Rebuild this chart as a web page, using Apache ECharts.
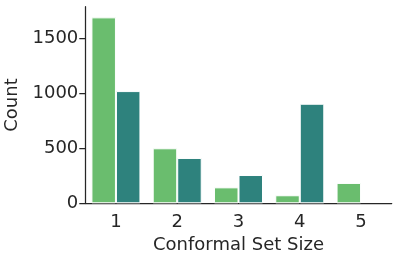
<!DOCTYPE html>
<html>
<head>
<meta charset="utf-8">
<style>html,body{margin:0;padding:0;background:#fff}#c{width:399px;height:261px}</style>
<script src="https://cdn.jsdelivr.net/npm/echarts@6/dist/echarts.min.js"></script>
</head>
<body>
<div id="c"></div>
<script>
var categories = ['1', '2', '3', '4', '5'];
var seriesA = [1690, 500, 145, 73, 185];
var seriesB = [1020, 412, 257, 905, null];
var yTicks = [0, 500, 1000, 1500];

var chart = echarts.init(document.getElementById('c'), null, {renderer: 'canvas'});
var font = 'DejaVu Sans';
var ink = '#262626';
chart.setOption({
  animation: false,
  grid: {left: 85.3, right: 7.3, top: 6.7, bottom: 57.7, containLabel: false, outerBoundsMode: 'none'},
  xAxis: {
    type: 'category',
    data: categories,
    name: 'Conformal Set Size',
    nameLocation: 'middle',
    nameGap: 30,
    nameTextStyle: {fontFamily: font, fontSize: 18, color: ink},
    axisLine: {lineStyle: {color: ink, width: 1.25}},
    axisTick: {alignWithLabel: true, length: 6, lineStyle: {color: ink, width: 1.25}},
    axisLabel: {fontFamily: font, fontSize: 18, color: ink, margin: 10}
  },
  yAxis: {
    type: 'value',
    min: 0,
    max: 1787,
    interval: 500,
    name: 'Count',
    nameLocation: 'middle',
    nameGap: 58,
    nameTextStyle: {fontFamily: font, fontSize: 18, color: ink},
    splitLine: {show: false},
    axisLine: {show: true, lineStyle: {color: ink, width: 1.25}},
    axisTick: {show: true, length: 6, customValues: yTicks, lineStyle: {color: ink, width: 1.25}},
    axisLabel: {fontFamily: font, fontSize: 18, color: ink, margin: 7, customValues: yTicks,
      formatter: function (v) { return String(v); }}
  },
  series: [
    {type: 'bar', data: seriesA, barGap: '0%', barCategoryGap: '20%',
     itemStyle: {color: '#6abd6e', borderColor: '#ffffff', borderWidth: 1}},
    {type: 'bar', data: seriesB,
     itemStyle: {color: '#2e827d', borderColor: '#ffffff', borderWidth: 1}}
  ]
});
</script>
</body>
</html>
